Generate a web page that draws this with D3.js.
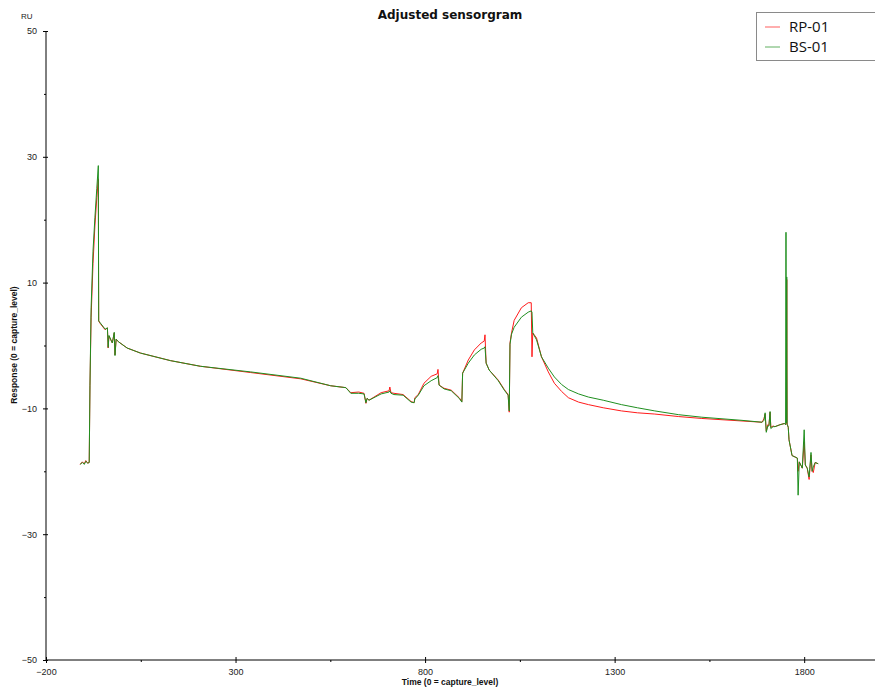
<!DOCTYPE html>
<html>
<head>
<meta charset="utf-8">
<script src="https://cdn.jsdelivr.net/npm/d3@7/dist/d3.min.js"></script>
<style>
  html, body { margin: 0; padding: 0; background: #fff; }
  svg { display: block; }
  .tick-label { font-family: "Liberation Sans", Arial, sans-serif; font-size: 9px; fill: #222; }
  .axis-title { font-family: "Liberation Sans", Arial, sans-serif; font-size: 8.5px; font-weight: bold; fill: #111; }
</style>
</head>
<body>
<svg id="chart" width="875" height="688"></svg>
<script>
// Sensorgram time points (s, 0 = capture level)
const times = [
  -110, -104, -99, -95, -90, -86, -84, -81, -76, -71, -66, -62, -61, -57, -44, -38, -36, -34,
  -25, -20, -18, -15, -9, 14, 49, 128, 207, 340, 472, 551, 591, 604, 625, 639, 644, 647, 652,
  684, 705, 707, 710, 718, 742, 763, 771, 773, 782, 797, 816, 832, 834, 837, 850, 869, 890, 897,
  899, 914, 930, 948, 956, 958, 961, 969, 993, 1009, 1019, 1022, 1024, 1028, 1035, 1054, 1072,
  1080, 1082, 1084, 1094, 1107, 1125, 1141, 1160, 1178, 1205, 1231, 1270, 1318, 1360, 1406, 1469,
  1530, 1636,
  1689, 1694, 1697, 1700, 1704, 1707, 1710, 1712, 1718, 1723, 1736, 1748, 1751, 1752, 1753,
  1754, 1755, 1758, 1760, 1768, 1782, 1784, 1787, 1795, 1800, 1803, 1808, 1813, 1818, 1821,
  1824, 1829, 1837
];

// Response (RU) for RP-01
const rp01 = [
  -18.9, -18.5, -18.8, -18.3, -18.7, -18.6, -6.3, 4.5, 13.0, 19.0, 23.5, 26.5, 3.9, 3.5, 2.5, 2.8, -0.4, 1.5,
  0.4, 2.0, -1.5, 1.0, 0.6, -0.4, -1.2, -2.4, -3.3, -4.3, -5.3, -6.4, -6.7, -7.5, -7.4, -7.6, -9.2, -8.4, -8.7,
  -7.5, -7.2, -6.6, -7.5, -7.6, -7.8, -8.9, -9.1, -8.3, -7.8, -6.0, -4.9, -4.5, -3.8, -6.3, -6.8, -7.1, -8.3, -8.9,
  -4.4, -2.3, -0.7, 0.4, 0.7, 1.7, -2.8, -3.9, -5.5, -7.0, -7.8, -10.6, 0.4, 2.0, 4.0, 6.0, 6.8,
  6.8, -1.8, 2.0, 1.2, -1.8, -4.2, -6.0, -7.3, -8.3, -9.0, -9.4, -9.9, -10.4, -10.7, -10.9, -11.3,
  -11.6, -12.0,
  -12.2, -11.6, -10.9, -13.6, -12.6, -12.7, -10.6, -13.0, -12.8, -12.9, -12.6, -12.4, -12.6, -12.5, -12.4,
  10.5, -12.5, -13.0, -15.0, -17.5, -17.9, -20.0, -18.5, -19.5, -15.3, -19.0, -19.5, -21.3, -17.4, -20.0,
  -20.2, -18.6, -18.8
];

// Response (RU) for BS-01
const bs01 = [
  -18.9, -18.6, -18.9, -18.4, -18.7, -18.6, -6.3, 6.0, 15.0, 20.3, 25.0, 28.6, 3.9, 3.6, 2.6, 2.8, -0.3, 1.6,
  0.4, 2.1, -1.6, 1.0, 0.6, -0.4, -1.2, -2.4, -3.3, -4.2, -5.2, -6.4, -6.7, -7.6, -7.6, -7.7, -9.1, -8.4, -8.7,
  -7.7, -7.4, -7.2, -7.6, -7.8, -7.9, -9.0, -9.1, -8.5, -7.9, -6.4, -5.6, -5.1, -4.8, -6.3, -6.9, -7.2, -8.4, -9.0,
  -4.4, -2.8, -1.5, -0.6, -0.4, -0.2, -2.8, -3.9, -5.6, -7.1, -7.9, -10.4, 0.2, 1.8, 2.9, 4.5, 5.3,
  5.5, 5.3, 2.0, 0.9, -1.8, -3.6, -5.0, -6.2, -7.0, -7.7, -8.2, -8.7, -9.4, -9.9, -10.4, -11.0,
  -11.4, -11.9,
  -12.2, -11.9, -10.7, -13.8, -12.8, -12.8, -10.5, -13.2, -12.9, -12.9, -12.6, -12.4, -12.6, 18.0, -12.3,
  10.9, -12.5, -13.0, -15.0, -17.5, -17.9, -23.8, -18.5, -19.5, -13.4, -19.0, -19.5, -20.9, -17.0, -20.0,
  -19.3, -18.6, -18.8
];

// Axis ticks
const xMajorTicks = [-200, 300, 800, 1300, 1800];
const xMinorTicks = [50, 550, 1050, 1550];
const yMajorTicks = [50, 30, 10, -10, -30, -50];
const yMinorTicks = [40, 20, 0, -20, -40];

const seriesNames = ["RP-01", "BS-01"];
const seriesColors = ["#ff1a1a", "#1f8f1f"];

const svg = d3.select("#chart");
const plotLeft = 46, plotTop = 31, plotBottom = 660, plotRight = 880;

const x = d3.scaleLinear().domain([-200, 2000]).range([plotLeft, plotRight]);
const y = d3.scaleLinear().domain([-50, 50]).range([plotBottom, plotTop]);

// Title
svg.append("text")
  .attr("x", 450).attr("y", 19)
  .attr("text-anchor", "middle")
  .style("font-family", "'DejaVu Sans', sans-serif")
  .style("font-size", "12px").style("font-weight", "bold").style("fill", "#111")
  .text("Adjusted sensorgram");

// Unit label
svg.append("text").attr("class", "tick-label")
  .attr("x", 21).attr("y", 19).style("font-size", "8px").text("RU");

// Y axis
const yAxis = svg.append("g").attr("transform", `translate(${plotLeft},0)`)
  .call(d3.axisLeft(y).tickValues(yMajorTicks).tickSize(4).tickPadding(5).tickFormat(d3.format("d")));
yAxis.select(".domain").attr("stroke", "#000").attr("d", `M0,${plotTop}V${plotBottom}`);
yAxis.selectAll(".tick line").attr("x2", 2).attr("x1", -3).attr("stroke", "#000");
yAxis.selectAll(".tick text").attr("class", "tick-label").attr("dy", "0.32em");
svg.append("g").attr("transform", `translate(${plotLeft},0)`)
  .call(d3.axisLeft(y).tickValues(yMinorTicks).tickSize(2).tickFormat(""))
  .call(g => g.select(".domain").remove());

// X axis
const xAxis = svg.append("g").attr("transform", `translate(0,${plotBottom})`)
  .call(d3.axisBottom(x).tickValues(xMajorTicks).tickSize(3).tickPadding(6).tickFormat(d3.format("d")));
xAxis.select(".domain").attr("stroke", "#000").attr("d", `M${plotLeft},0H875`);
xAxis.selectAll(".tick line").attr("y1", -3).attr("y2", 3).attr("stroke", "#000");
xAxis.selectAll(".tick text").attr("class", "tick-label");
svg.append("g").attr("transform", `translate(0,${plotBottom})`)
  .call(d3.axisBottom(x).tickValues(xMinorTicks).tickSize(2).tickFormat(""))
  .call(g => g.select(".domain").remove());

// Axis titles
svg.append("text").attr("class", "axis-title")
  .attr("x", 450).attr("y", 685).attr("text-anchor", "middle")
  .text("Time (0 = capture_level)");
svg.append("text").attr("class", "axis-title")
  .attr("transform", "translate(17,345) rotate(-90)")
  .attr("text-anchor", "middle")
  .text("Response (0 = capture_level)");

// Plot clip
svg.append("clipPath").attr("id", "plot-clip")
  .append("rect").attr("x", plotLeft + 1).attr("y", plotTop).attr("width", 875 - plotLeft).attr("height", plotBottom - plotTop);

const line = d3.line()
  .x(d => x(d[0]))
  .y(d => y(d[1]));

const plot = svg.append("g").attr("clip-path", "url(#plot-clip)");
[rp01, bs01].forEach((vals, i) => {
  plot.append("path")
    .datum(times.map((t, j) => [t, vals[j]]))
    .attr("fill", "none")
    .attr("stroke", seriesColors[i])
    .attr("stroke-width", 1)
    .attr("stroke-linejoin", "round")
    .attr("d", line);
});

// Legend
const legend = svg.append("g");
legend.append("rect")
  .attr("x", 756.5).attr("y", 12.5).attr("width", 130).attr("height", 48)
  .attr("fill", "#fff").attr("stroke", "#8a8a8a").attr("stroke-width", 1);
seriesNames.forEach((name, i) => {
  const yy = 27 + i * 20;
  legend.append("line")
    .attr("x1", 765).attr("x2", 780).attr("y1", yy).attr("y2", yy)
    .attr("stroke", seriesColors[i]).attr("stroke-width", 1).attr("opacity", 0.7);
  legend.append("text")
    .attr("x", 789).attr("y", yy + 5)
    .style("font-family", "'Open Sans', sans-serif").style("font-size", "15px").style("fill", "#111")
    .text(name);
});
</script>
</body>
</html>
